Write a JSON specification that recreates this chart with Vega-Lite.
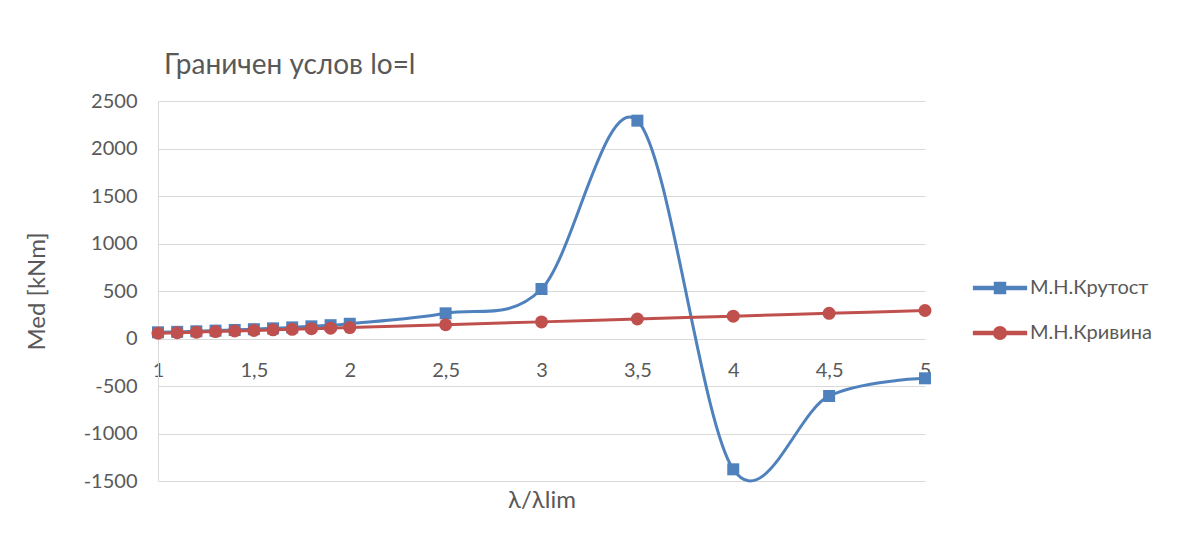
{
  "$schema": "https://vega.github.io/schema/vega-lite/v6.json",
  "width": 767,
  "height": 380,
  "autosize": {"type": "none"},
  "padding": {"left": 158, "top": 101, "right": 253, "bottom": 63},
  "background": "white",
  "title": {
    "text": "Граничен услов lo=l",
    "anchor": "start",
    "frame": "group",
    "dx": 6,
    "offset": 11,
    "font": "Lato",
    "fontSize": 28,
    "fontWeight": "normal",
    "color": "#595959"
  },
  "config": {
    "view": {"stroke": null},
    "axis": {
      "labelFont": "Lato",
      "labelFontSize": 20,
      "labelColor": "#595959",
      "titleFont": "Lato",
      "titleFontSize": 24,
      "titleFontWeight": "normal",
      "titleColor": "#595959",
      "gridColor": "#d9d9d9",
      "gridWidth": 1,
      "domainColor": "#d9d9d9",
      "ticks": false
    }
  },
  "data": {
    "values": [
      {"x": 1, "s": "М.Н.Крутост", "v": 65},
      {"x": 1.1, "s": "М.Н.Крутост", "v": 70},
      {"x": 1.2, "s": "М.Н.Крутост", "v": 76},
      {"x": 1.3, "s": "М.Н.Крутост", "v": 83},
      {"x": 1.4, "s": "М.Н.Крутост", "v": 90},
      {"x": 1.5, "s": "М.Н.Крутост", "v": 98},
      {"x": 1.6, "s": "М.Н.Крутост", "v": 107},
      {"x": 1.7, "s": "М.Н.Крутост", "v": 117},
      {"x": 1.8, "s": "М.Н.Крутост", "v": 128},
      {"x": 1.9, "s": "М.Н.Крутост", "v": 140},
      {"x": 2, "s": "М.Н.Крутост", "v": 155},
      {"x": 2.5, "s": "М.Н.Крутост", "v": 265},
      {"x": 3, "s": "М.Н.Крутост", "v": 521},
      {"x": 3.5, "s": "М.Н.Крутост", "v": 2293},
      {"x": 4, "s": "М.Н.Крутост", "v": -1377},
      {"x": 4.5, "s": "М.Н.Крутост", "v": -605},
      {"x": 5, "s": "М.Н.Крутост", "v": -419},
      {"x": 1, "s": "М.Н.Кривина", "v": 55},
      {"x": 1.1, "s": "М.Н.Кривина", "v": 61},
      {"x": 1.2, "s": "М.Н.Кривина", "v": 67},
      {"x": 1.3, "s": "М.Н.Кривина", "v": 73},
      {"x": 1.4, "s": "М.Н.Кривина", "v": 79},
      {"x": 1.5, "s": "М.Н.Кривина", "v": 85},
      {"x": 1.6, "s": "М.Н.Кривина", "v": 91},
      {"x": 1.7, "s": "М.Н.Кривина", "v": 97},
      {"x": 1.8, "s": "М.Н.Кривина", "v": 103},
      {"x": 1.9, "s": "М.Н.Кривина", "v": 109},
      {"x": 2, "s": "М.Н.Кривина", "v": 115},
      {"x": 2.5, "s": "М.Н.Кривина", "v": 145},
      {"x": 3, "s": "М.Н.Кривина", "v": 175},
      {"x": 3.5, "s": "М.Н.Кривина", "v": 205},
      {"x": 4, "s": "М.Н.Кривина", "v": 235},
      {"x": 4.5, "s": "М.Н.Кривина", "v": 265},
      {"x": 5, "s": "М.Н.Кривина", "v": 295}
    ]
  },
  "encoding": {
    "x": {
      "field": "x",
      "type": "quantitative",
      "scale": {"domain": [1, 5], "nice": false, "zero": false},
      "axis": {
        "title": "λ/λlim",
        "values": [1, 1.5, 2, 2.5, 3, 3.5, 4, 4.5, 5],
        "labelExpr": "replace('' + datum.value, '.', ',')",
        "grid": false,
        "domain": false,
        "offset": -142.5,
        "labelPadding": 22,
        "labelOverlap": false,
        "labelFlush": false,
        "titlePadding": 108
      }
    },
    "y": {
      "field": "v",
      "type": "quantitative",
      "scale": {"domain": [-1500, 2500], "nice": false},
      "axis": {
        "title": "Med [kNm]",
        "values": [-1500, -1000, -500, 0, 500, 1000, 1500, 2000, 2500],
        "labelExpr": "'' + datum.value",
        "grid": true,
        "domain": true,
        "labelPadding": 21,
        "titlePadding": 34
      }
    },
    "color": {
      "field": "s",
      "type": "nominal",
      "scale": {"domain": ["М.Н.Крутост", "М.Н.Кривина"], "range": ["#4f81bd", "#c0504d"]},
      "legend": {
        "title": null,
        "orient": "none",
        "legendX": 832,
        "legendY": 177,
        "labelFont": "Lato",
        "labelFontSize": 20,
        "labelColor": "#595959",
        "labelOffset": 20,
        "rowPadding": 25,
        "symbolSize": 121,
        "encode": {
          "symbols": {
            "update": {
              "shape": {"signal": "datum.index === 0 ? 'M-4.8,-0.27H4.8V0.27H-4.8Z M-1,-1H1V1H-1Z' : 'M-4.8,-0.27H4.8V0.27H-4.8Z M-1.15,0A1.15,1.15,0,1,1,1.15,0A1.15,1.15,0,1,1,-1.15,0Z'"},
              "fill": {"signal": "datum.index === 0 ? '#4f81bd' : '#c0504d'"},
              "stroke": {"value": "transparent"},
              "size": {"value": 121},
              "opacity": {"value": 1},
              "fillOpacity": {"value": 1}
            }
          }
        }
      }
    }
  },
  "layer": [
    {
      "transform": [{"filter": "datum.s === 'М.Н.Крутост'"}],
      "mark": {"type": "line", "interpolate": "cardinal", "strokeWidth": 3}
    },
    {
      "transform": [{"filter": "datum.s === 'М.Н.Крутост'"}],
      "mark": {"type": "point", "shape": "square", "filled": true, "opacity": 1, "size": 144}
    },
    {
      "transform": [{"filter": "datum.s === 'М.Н.Кривина'"}],
      "mark": {"type": "line", "interpolate": "cardinal", "strokeWidth": 3}
    },
    {
      "transform": [{"filter": "datum.s === 'М.Н.Кривина'"}],
      "mark": {"type": "point", "shape": "circle", "filled": true, "opacity": 1, "size": 169}
    }
  ]
}
